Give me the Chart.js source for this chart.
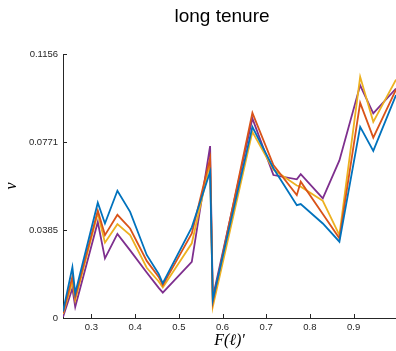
<!DOCTYPE html>
<html>
<head>
<meta charset="utf-8">
<script src="https://cdn.jsdelivr.net/npm/chart.js@4"></script>
<style>
  html, body { margin: 0; padding: 0; background: #fff; }
  #wrap { width: 396px; height: 351px; }
</style>
</head>
<body>
<div id="wrap"><canvas id="chart" width="396" height="351"></canvas></div>
<script>
// shared x grid (F(l)')
const xValues = [0.235, 0.2565, 0.263, 0.3146, 0.331, 0.3595, 0.3886, 0.4266, 0.454, 0.4634, 0.5297,
    0.5716, 0.5778, 0.6684, 0.7165, 0.770, 0.779, 0.8295, 0.8675, 0.915, 0.945, 0.997];

const blueVals = [0.0028, 0.0222, 0.0108, 0.0505, 0.0414, 0.0557, 0.0465, 0.0276, 0.0193, 0.0152, 0.0397,
    0.0640, 0.0080, 0.0837, 0.0656, 0.0494, 0.0499, 0.0414, 0.0334, 0.0837, 0.0732, 0.0976];
const orangeVals = [0.0022, 0.0181, 0.0092, 0.0470, 0.0363, 0.0452, 0.0392, 0.0250, 0.0180, 0.0144, 0.0370,
    0.0700, 0.0070, 0.0898, 0.0670, 0.0538, 0.0597, 0.0455, 0.0349, 0.0942, 0.0790, 0.1000];
const yellowVals = [0.0018, 0.0159, 0.0079, 0.0460, 0.0330, 0.0411, 0.0363, 0.0220, 0.0160, 0.0134, 0.0327,
    0.0680, 0.0050, 0.0815, 0.0650, 0.0580, 0.0575, 0.0513, 0.0363, 0.1056, 0.0859, 0.1044];
const purpleVals = [0.0005, 0.0130, 0.0049, 0.0420, 0.0261, 0.0368, 0.0296, 0.0199, 0.0132, 0.0111, 0.0246,
    0.0753, 0.0090, 0.0874, 0.0626, 0.0607, 0.0630, 0.0524, 0.0690, 0.1019, 0.0896, 0.1005];

const xTicks = [0.3, 0.4, 0.5, 0.6, 0.7, 0.8, 0.9];
const yTicks = [0, 0.0385, 0.0771, 0.1156];
const yTickLabels = ['0', '0.0385', '0.0771', '0.1156'];

const titleText = 'long tenure';
const xLabel = 'F(\u2113)\u2032';
const yLabel = '\u03bd';

const axisColor = '#262626';

function makeSeries(vals, color) {
    return {
        data: xValues.map((x, i) => ({ x: x, y: vals[i] })),
        borderColor: color,
        backgroundColor: color,
        borderWidth: 1.8,
        pointRadius: 0,
        showLine: true,
        fill: false,
        tension: 0
    };
}

// inward tick marks + title, matlab style
const extrasPlugin = {
    id: 'extras',
    afterDraw(chart) {
        const ctx = chart.ctx;
        const xs = chart.scales.x, ys = chart.scales.y;
        const area = chart.chartArea;
        ctx.save();
        ctx.strokeStyle = axisColor;
        ctx.lineWidth = 1;
        ctx.beginPath();
        xTicks.forEach(v => {
            const px = Math.round(xs.getPixelForValue(v)) + 0.5;
            ctx.moveTo(px, area.bottom);
            ctx.lineTo(px, area.bottom - 4);
        });
        yTicks.forEach(v => {
            const py = Math.round(ys.getPixelForValue(v)) + 0.5;
            ctx.moveTo(area.left, py);
            ctx.lineTo(area.left + 4, py);
        });
        ctx.stroke();

        ctx.fillStyle = '#000';
        ctx.font = '19px "Liberation Sans", Arial, sans-serif';
        ctx.textAlign = 'center';
        ctx.textBaseline = 'middle';
        ctx.fillText(titleText, 222, 17);
        ctx.restore();
    }
};

const ctx = document.getElementById('chart').getContext('2d');
new Chart(ctx, {
    type: 'scatter',
    data: {
        datasets: [
            makeSeries(blueVals, '#0072BD'),
            makeSeries(orangeVals, '#D95319'),
            makeSeries(yellowVals, '#EDB120'),
            makeSeries(purpleVals, '#7E2F8E')
        ]
    },
    options: {
        responsive: false,
        animation: false,
        layout: { padding: { top: 54, right: 0, left: 0, bottom: 0 } },
        plugins: { legend: { display: false }, tooltip: { enabled: false }, title: { display: false } },
        scales: {
            x: {
                type: 'linear',
                min: 0.235,
                max: 0.997,
                grid: { display: false, drawTicks: false },
                border: { display: true, color: axisColor, width: 1 },
                afterBuildTicks: s => { s.ticks = xTicks.map(v => ({ value: v })); },
                afterFit: s => { s.height = 33; },
                ticks: {
                    color: axisColor,
                    padding: 4,
                    maxRotation: 0,
                    font: { family: '"Liberation Sans", Arial, sans-serif', size: 9.5 },
                    callback: v => v.toFixed(1)
                },
                title: {
                    display: true,
                    text: xLabel,
                    color: '#000',
                    padding: { top: 0, bottom: 1 },
                    font: { family: '"Liberation Serif", "DejaVu Serif", serif', size: 16, style: 'italic' }
                }
            },
            y: {
                type: 'linear',
                min: 0,
                max: 0.1156,
                grid: { display: false, drawTicks: false },
                border: { display: true, color: axisColor, width: 1 },
                afterBuildTicks: s => { s.ticks = yTicks.map(v => ({ value: v })); },
                afterFit: s => { s.width = 63; },
                ticks: {
                    color: axisColor,
                    padding: 5,
                    font: { family: '"Liberation Sans", Arial, sans-serif', size: 9.5 },
                    callback: (v, i) => yTickLabels[i]
                },
                title: {
                    display: true,
                    text: yLabel,
                    color: '#000',
                    padding: { top: 2, bottom: 0 },
                    font: { family: '"Liberation Serif", "DejaVu Serif", serif', size: 16, style: 'italic' }
                }
            }
        }
    },
    plugins: [extrasPlugin]
});
</script>
</body>
</html>
